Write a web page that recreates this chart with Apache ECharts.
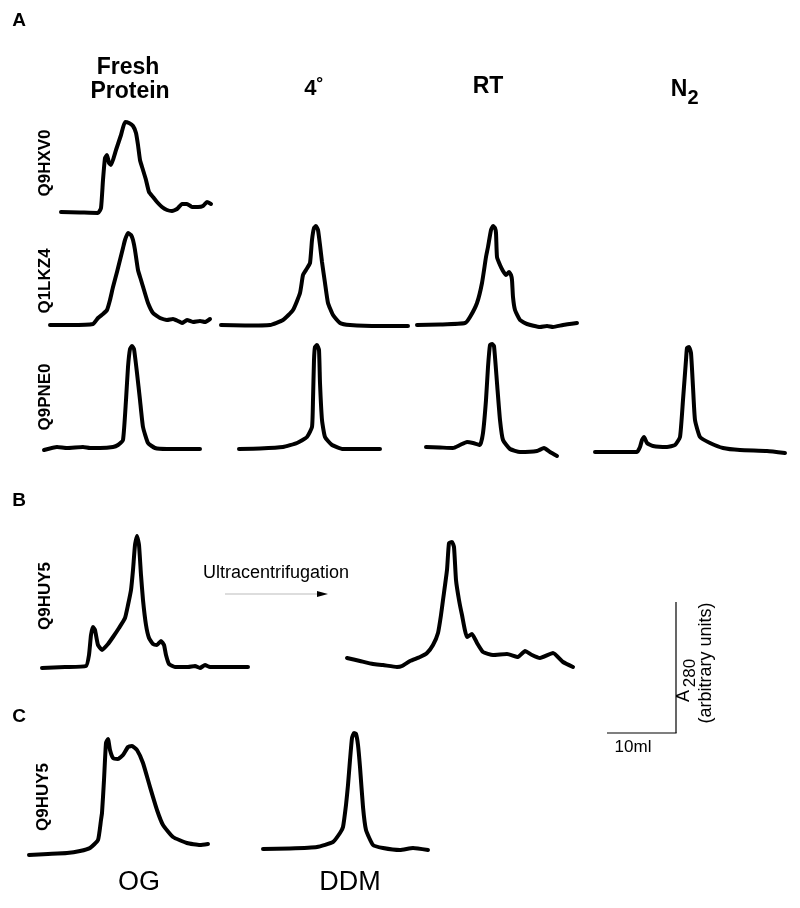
<!DOCTYPE html>
<html>
<head>
<meta charset="utf-8">
<script src="https://cdn.jsdelivr.net/npm/echarts@6/dist/echarts.min.js"></script>
<style>
  html, body { margin: 0; padding: 0; background: #fff; }
  #chart { width: 800px; height: 908px; }
</style>
</head>
<body>
<div id="chart"></div>
<script>
// elution profiles, [volume, A280] in arbitrary units

// A - Q9HXV0 fresh protein
var hxv0Fresh = [[3,4],[22,3.5],[40,3],[43,8],[45,36],[47,58],[49,61],[51,53],[53,51],[58,66],[63,81],[67,94],[71,93],[75,90],[78,83],[80,71],[82,56],[85,46],[88,36],[91,24],[95,19],[99,14],[104,9],[109,6],[114,5],[119,7],[124,12],[129,12],[134,9],[140,9],[145,10],[149,14],[153,12]];

// A - Q1LKZ4 fresh / 4 deg / RT
var lkz4Fresh = [[2,1],[22,1],[45,2],[50,8],[55,12],[59,16],[62,26],[65,39],[69,54],[72,66],[75,78],[77,86],[80,93],[83,91],[85,86],[87,76],[90,56],[93,46],[96,36],[100,23],[105,13],[112,8],[119,6],[125,7],[130,5],[134,3],[139,6],[145,4],[152,5],[157,4],[162,7]];
var lkz4Cold = [[3,3],[27,2.5],[52,3],[65,8],[75,18],[82,35],[85,53],[88,58],[92,65],[94,88],[96,100],[98,102],[100,98],[102,83],[104,66],[107,45],[110,25],[115,13],[122,5],[132,3],[162,2],[190,2]];
var lkz4RT = [[3,5],[26,5.5],[51,7],[56,13],[63,27],[68,47],[72,73],[74,83],[77,100],[79,104],[81,102],[82,97],[83,73],[86,65],[89,59],[92,55],[95,58],[97,55],[98,50],[99,33],[101,20],[106,10],[113,6],[126,3],[133,4],[139,3],[149,5],[163,7]];

// A - Q9PNE0 fresh / 4 deg / RT / N2
var pne0Fresh = [[2,3],[15,6],[25,5],[41,6],[48,5],[58,5],[71,6],[76,8],[81,13],[84,53],[86,86],[88,104],[90,107],[92,104],[95,80],[98,53],[101,26],[106,10],[113,5],[125,4],[158,4]];
var pne0Cold = [[3,4],[24,4.5],[47,6],[61,10],[71,16],[76,26],[77,53],[78,93],[79,106],[81,108],[83,103],[84,70],[86,33],[89,16],[96,8],[107,4],[144,4]];
var pne0RT = [[4,13],[18,12.5],[31,12],[38,15],[45,18],[51,17],[58,15],[61,27],[64,60],[66,93],[68,115],[70,116],[72,114],[75,77],[78,40],[81,20],[88,11],[98,8],[115,9],[122,12],[128,8],[135,4]];
var pne0N2 = [[3,6],[23,6],[45,6],[48,11],[50,18],[52,21],[55,15],[61,12],[75,11],[83,13],[88,21],[91,58],[94,98],[95,110],[97,111],[99,105],[101,71],[103,38],[108,21],[118,15],[131,10],[148,8],[175,7],[193,5]];

// B - Q9HUY5 before / after ultracentrifugation
var huy5Before = [[2,4],[25,5],[46,6],[49,17],[51,37],[53,45],[55,42],[58,27],[62,22],[68,28],[73,35],[79,44],[85,54],[88,67],[91,82],[93,102],[95,127],[97,136],[99,127],[101,97],[103,72],[106,47],[109,34],[113,28],[117,27],[121,31],[124,27],[126,17],[129,8],[135,5],[148,5],[155,6],[160,4],[165,7],[170,5],[190,5],[208,5]];
var huy5After = [[2,14],[15,11],[28,8],[38,7],[52,5],[57,6],[65,11],[75,15],[82,19],[88,27],[93,39],[96,57],[98,72],[102,102],[104,129],[107,130],[109,125],[111,92],[114,72],[117,57],[122,35],[127,38],[132,29],[138,20],[148,17],[162,18],[173,15],[180,21],[187,17],[195,14],[208,19],[218,10],[228,5]];

// C - Q9HUY5 in OG / DDM
var huy5OG = [[3,5],[22,6],[41,7],[54,9],[64,12],[72,20],[75,40],[76,47],[78,80],[80,117],[82,121],[84,110],[87,102],[92,101],[97,105],[102,113],[106,114],[111,110],[117,97],[124,73],[131,50],[137,35],[147,23],[161,17],[174,15],[182,16]];
var huy5DDM = [[3,6],[30,6.5],[57,8],[73,13],[80,22],[83,28],[86,50],[88,70],[90,95],[92,117],[94,122],[96,121],[98,110],[100,88],[103,48],[106,25],[113,10],[123,7],[140,5],[153,7],[168,5]];

var curves = [hxv0Fresh, lkz4Fresh, lkz4Cold, lkz4RT, pne0Fresh, pne0Cold, pne0RT, pne0N2, huy5Before, huy5After, huy5OG, huy5DDM];

// panel boxes: left, top, width, height (pixels)
var boxes = [
  [58, 116, 160, 100],
  [48, 226, 165, 100],
  [218, 223, 195, 105],
  [414, 222, 170, 108],
  [42, 343, 165, 110],
  [236, 343, 150, 110],
  [422, 342, 140, 118],
  [592, 343, 196, 115],
  [40, 534, 212, 138],
  [345, 537, 235, 135],
  [26, 735, 190, 125],
  [260, 730, 172, 125]
];

var FONT = '"Liberation Sans", Arial, Helvetica, sans-serif';

var grids = [], xAxes = [], yAxes = [], series = [];
for (var i = 0; i < curves.length; i++) {
  var b = boxes[i];
  grids.push({ left: b[0], top: b[1], width: b[2], height: b[3], show: false });
  xAxes.push({ type: 'value', gridIndex: i, min: 0, max: b[2], show: false });
  yAxes.push({ type: 'value', gridIndex: i, min: 0, max: b[3], show: false });
  series.push({
    type: 'line',
    xAxisIndex: i,
    yAxisIndex: i,
    data: curves[i],
    symbol: 'none',
    clip: false,
    smooth: 0.15,
    silent: true,
    lineStyle: { color: '#000', width: 4, cap: 'round', join: 'round' }
  });
}

function label(txt, x, y, size, bold, rot) {
  return {
    type: 'text', x: x, y: y, rotation: rot || 0,
    style: {
      text: txt, x: 0, y: 0, align: 'center', verticalAlign: 'middle',
      font: (bold ? 'bold ' : '') + size + 'px ' + FONT, fill: '#000'
    }
  };
}

var UP = Math.PI / 2;
var graphics = [
  label('A', 19, 21, 19, true),
  label('B', 19, 501, 19, true),
  label('C', 19, 717, 19, true),
  label('Fresh', 128, 68, 23, true),
  label('Protein', 130, 92, 23, true),
  label('4\u02DA', 314, 89, 22, true),
  label('RT', 488, 87, 23, true),
  label('N', 679, 90, 23, true),
  label('2', 693, 98, 20, true),
  label('Q9HXV0', 45, 163, 17, true, UP),
  label('Q1LKZ4', 45, 281, 17, true, UP),
  label('Q9PNE0', 45, 397, 17, true, UP),
  label('Q9HUY5', 45, 596, 17, true, UP),
  label('Q9HUY5', 43, 797, 17, true, UP),
  label('Ultracentrifugation', 276, 573, 18, false),
  { type: 'line', shape: { x1: 225, y1: 594, x2: 318, y2: 594 }, style: { stroke: '#bbb', lineWidth: 1 } },
  { type: 'polygon', shape: { points: [[317, 591], [328, 594], [317, 597]] }, style: { fill: '#000' } },
  { type: 'line', shape: { x1: 676, y1: 602, x2: 676, y2: 733 }, style: { stroke: '#000', lineWidth: 1.2 } },
  { type: 'line', shape: { x1: 607, y1: 733, x2: 676.6, y2: 733 }, style: { stroke: '#000', lineWidth: 1.2 } },
  label('10ml', 633, 747, 17, false),
  label('A', 684, 696, 18, false, UP),
  label('280', 690, 673, 17, false, UP),
  label('(arbitrary units)', 706, 663, 18, false, UP),
  label('OG', 139, 883, 27, false),
  label('DDM', 350, 883, 27, false)
];

var chart = echarts.init(document.getElementById('chart'));
chart.setOption({
  backgroundColor: '#fff',
  animation: false,
  grid: grids,
  xAxis: xAxes,
  yAxis: yAxes,
  series: series,
  graphic: graphics
});
</script>
</body>
</html>
